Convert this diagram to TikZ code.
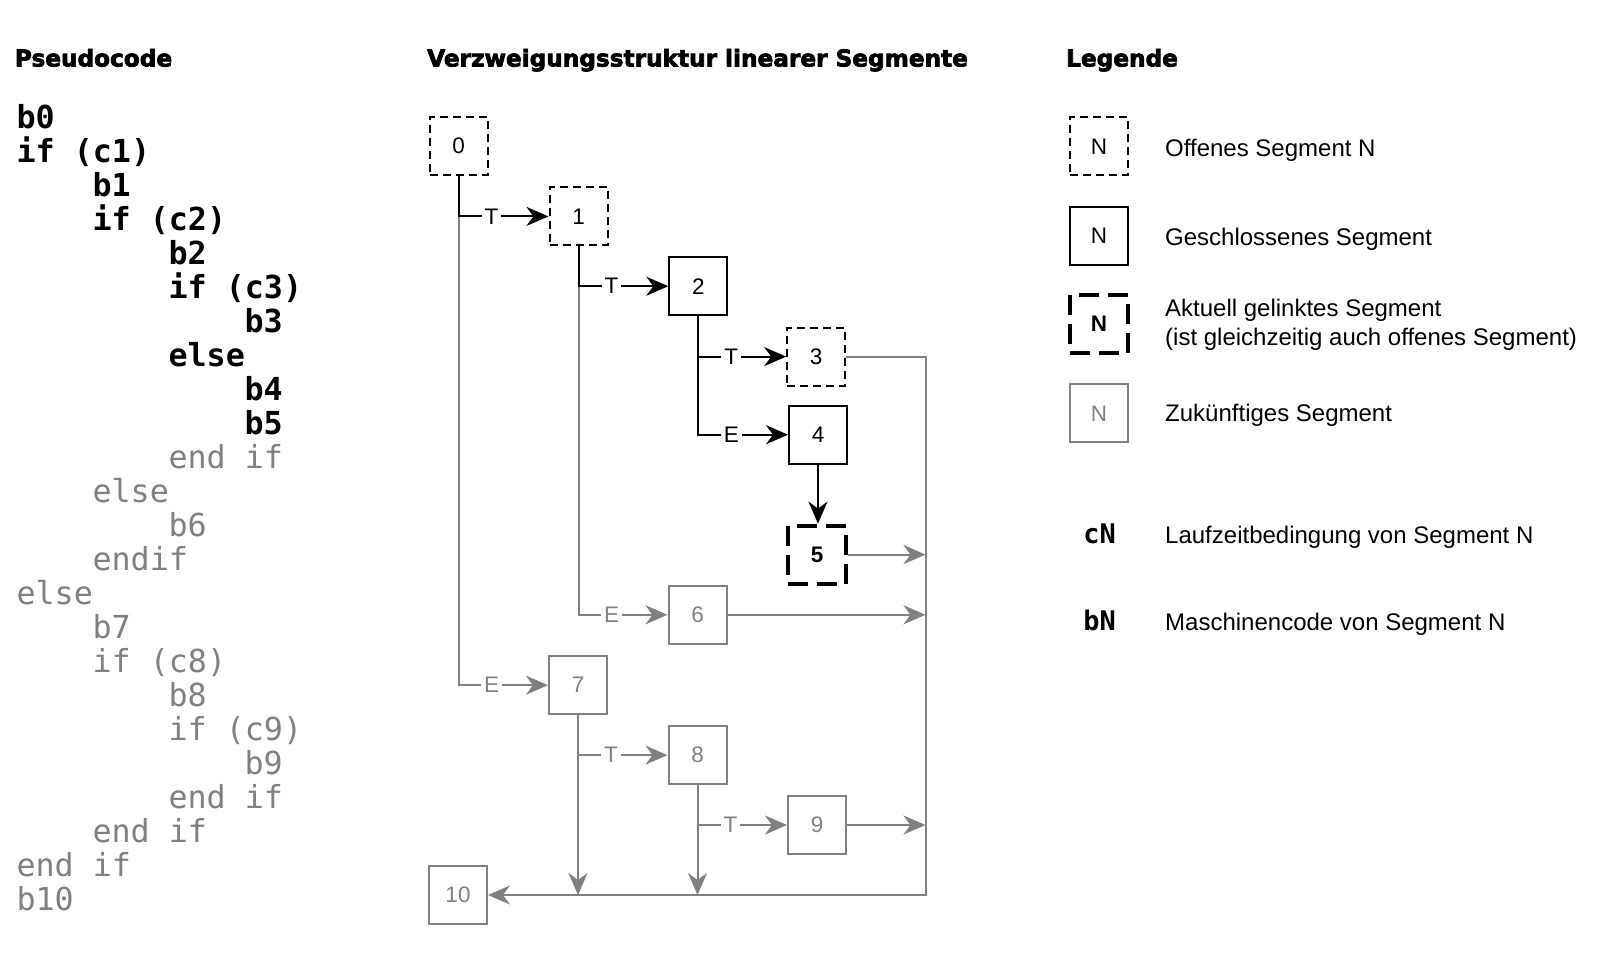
\documentclass[tikz,border=0pt]{standalone}
\usepackage{fontspec}
\setmainfont{Liberation Sans}
\newfontfamily\codefont{DejaVu Sans Mono}
\newfontfamily\titlefont[FakeBold=3]{DejaVu Sans}
\usetikzlibrary{arrows.meta}
\definecolor{gry}{RGB}{128,128,128}
\begin{document}
\begin{tikzpicture}[x=1pt,y=-1pt,
  seg/.style={draw, minimum size=58pt, inner sep=0pt, line width=2pt, font=\fontsize{22.5}{26}\selectfont},
  openseg/.style={seg, dash pattern=on 8pt off 5pt},
  closedseg/.style={seg},
  curseg/.style={seg, line width=4pt, dash pattern=on 20pt off 9pt, font=\bfseries\fontsize{22.5}{26}\selectfont},
  futseg/.style={seg, draw=gry, text=gry},
  blk/.style={line width=2pt, draw=black},
  gl/.style={line width=2pt, draw=gry},
  arr/.style={-{Stealth[length=22pt,width=19pt,inset=7pt]}},
  lbl/.style={fill=white, inner xsep=3pt, inner ysep=1pt, font=\fontsize{22.5}{26}\selectfont},
  glbl/.style={lbl, text=gry},
  ttl/.style={anchor=base west, inner sep=0pt, font=\titlefont\bfseries\fontsize{23.2}{28}\selectfont},
  cblk/.style={anchor=base west, inner sep=0pt, font=\codefont\bfseries\fontsize{31.7}{34}\selectfont},
  cgry/.style={anchor=base west, inner sep=0pt, text=gry, font=\codefont\fontsize{31.7}{34}\selectfont},
  legtxt/.style={anchor=base west, inner sep=0pt, font=\fontsize{24}{28}\selectfont},
  legcode/.style={anchor=base, inner sep=0pt, font=\codefont\bfseries\fontsize{27}{30}\selectfont}
]
\useasboundingbox (0,0) rectangle (1600,970);
\fill[white] (0,0) rectangle (1600,970);

% titles
\node[ttl] (h1) at (14.7,66.5) {Pseudocode};
\node[ttl] (h2) at (427,66.5) {Verzweigungsstruktur linearer Segmente};
\node[ttl] (h3) at (1066,66.5) {Legende};

% pseudocode
\foreach \i/\l/\t in {0/0/b0, 1/0/if (c1), 2/1/b1, 3/1/if (c2), 4/2/b2, 5/2/if (c3), 6/3/b3, 7/2/else, 8/3/b4, 9/3/b5}
  \node[cblk] (code\i) at ({16.3+76*\l},{128.3+34.0*\i}) {\t};
\foreach \i/\l/\t in {10/2/end if, 11/1/else, 12/2/b6, 13/1/endif, 14/0/else, 15/1/b7, 16/1/if (c8), 17/2/b8, 18/2/if (c9), 19/3/b9, 20/2/end if, 21/1/end if, 22/0/end if, 23/0/b10}
  \node[cgry] (code\i) at ({16.3+76*\l},{128.3+34.0*\i}) {\t};

% segments
\node[openseg] (B0) at (458.5,146.2) {0};
\node[openseg] (B1) at (578.5,216.4) {1};
\node[closedseg] (B2) at (698.3,286.2) {2};
\node[openseg] (B3) at (816.2,356.6) {3};
\node[closedseg] (B4) at (818,434.7) {4};
\node[curseg] (B5) at (817,554.6) {5};
\node[futseg] (B6) at (697.5,614.8) {6};
\node[futseg] (B7) at (578,685.2) {7};
\node[futseg] (B8) at (697.5,755.1) {8};
\node[futseg] (B9) at (817,825) {9};
\node[futseg] (B10) at (458,895) {10};

% junctions and rail
\coordinate (J0) at (B0.south |- B1.west);
\coordinate (J1) at (B1.south |- B2.west);
\coordinate (J7) at (B7.south |- B8.west);
\coordinate (J8) at (B8.south |- B9.west);
\coordinate (RT) at (B3.east -| 925.5,0);
\coordinate (RB) at (B10.east -| 925.5,0);

% gray connectors
\draw[gl,arr] (J0) |- (B7.west);
\draw[gl,arr] (J1) |- (B6.west);
\draw[gl,arr] (B3.east) -- (RT) -- (RB) -- (B10.east);
\draw[gl,arr] (B5.east) -- (B5.east -| RT);
\draw[gl,arr] (B6.east) -- (B6.east -| RT);
\draw[gl,arr] (B9.east) -- (B9.east -| RT);
\draw[gl,arr] (B7.south) -- (B7.south |- RB);
\draw[gl,arr] (J7) -- (B8.west);
\draw[gl,arr] (B8.south) -- (B8.south |- RB);
\draw[gl,arr] (J8) -- (B9.west);

% black connectors
\draw[blk,arr] (B0.south) |- (B1.west);
\draw[blk,arr] (B1.south) |- (B2.west);
\draw[blk,arr] (B2.south) |- (B4.west);
\draw[blk,arr] (B2.south) |- (B3.west);
\draw[blk,arr] (B4.south) -- (B4.south |- B5.north);

% branch labels
\node[lbl] (t01) at ([xshift=33pt]J0) {T};
\node[lbl] (t12) at ([xshift=33pt]J1) {T};
\node[lbl] (t23) at ([xshift=33pt]B2.south |- B3.west) {T};
\node[lbl] (e24) at ([xshift=33pt]B2.south |- B4.west) {E};
\node[glbl] (e16) at ([xshift=33pt]J1 |- B6.west) {E};
\node[glbl] (e07) at ([xshift=33pt]J0 |- B7.west) {E};
\node[glbl] (t78) at ([xshift=33pt]J7) {T};
\node[glbl] (t89) at ([xshift=33pt]J8) {T};

% legend
\node[openseg] (L1) at (1099,146.3) {N};
\node[closedseg] (L2) at (1099,235.7) {N};
\node[curseg] (L3) at (1099,324) {N};
\node[futseg] (L4) at (1099,413.3) {N};
\node[legtxt] (T1) at (1165,156) {Offenes Segment N};
\node[legtxt] (T2) at (1165,245) {Geschlossenes Segment};
\node[legtxt] (T3) at (1165,316.7) {Aktuell gelinktes Segment};
\node[legtxt] (T3b) at (1165,345) {(ist gleichzeitig auch offenes Segment)};
\node[legtxt] (T4) at (1165,421.7) {Zukünftiges Segment};
\node[legcode] (cN) at (1099.5,543.5) {cN};
\node[legcode] (bN) at (1099.5,630.5) {bN};
\node[legtxt] (T5) at (1165,543) {Laufzeitbedingung von Segment N};
\node[legtxt] (T6) at (1165,630) {Maschinencode von Segment N};
\end{tikzpicture}
\end{document}
